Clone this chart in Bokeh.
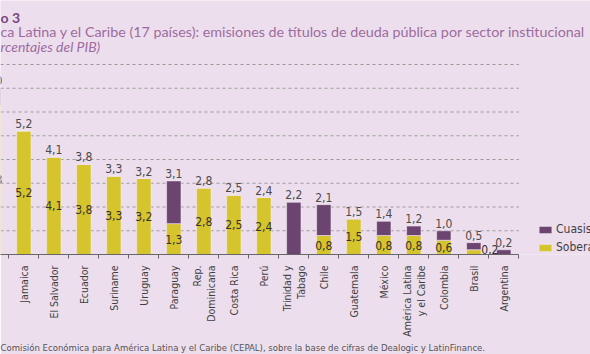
import math
from bokeh.plotting import figure
from bokeh.models import (Range1d, FixedTicker, Label, Legend, LegendItem,
                          ColumnDataSource, Title)
from bokeh.core.properties import value
from bokeh.embed import file_html
from bokeh.resources import INLINE

# ---------------- data ----------------
countries = ["Panamá", "Jamaica", "El Salvador", "Ecuador", "Suriname", "Uruguay",
             "Paraguay", "Rep.\nDominicana", "Costa Rica", "Perú", "Trinidad y\nTabago",
             "Chile", "Guatemala", "México", "América Latina\ny el Caribe", "Colombia",
             "Brasil", "Argentina"]
soberano = [6.3, 5.2, 4.1, 3.8, 3.3, 3.2, 1.3, 2.8, 2.5, 2.4, 0.0, 0.8, 1.5, 0.8,
            0.8, 0.6, 0.2, 0.0]
cuasisoberano = [0.7, 0.0, 0.0, 0.0, 0.0, 0.0, 1.8, 0.0, 0.0, 0.0, 2.2, 1.3, 0.0,
                 0.6, 0.4, 0.4, 0.3, 0.2]
totales = [7.0, 5.2, 4.1, 3.8, 3.3, 3.2, 3.1, 2.8, 2.5, 2.4, 2.2, 2.1, 1.5, 1.4,
           1.2, 1.0, 0.5, 0.2]
y_ticks = [1, 2, 3, 4, 5, 6, 7, 8]
series_names = ["Cuasisoberano", "Soberano"]

fig_title_num = "o 3"
fig_title = "ca Latina y el Caribe (17 países): emisiones de títulos de deuda pública por sector institucional"
fig_subtitle = "rcentajes del PIB)"
fig_source = ("Comisión Económica para América Latina y el Caribe (CEPAL), sobre la base "
              "de cifras de Dealogic y LatinFinance.")

# ---------------- style ----------------
BG = "#EDDEED"
PURPLE = "#6B4470"
YELLOW = "#D5C42B"
NARROW = "'Liberation Sans Narrow', 'DejaVu Sans Condensed', 'Roboto', sans-serif"
TITLE_FONT = "Lato"
TXT = "#3f3f3f"

W, H = 590, 354
FRAME_BOTTOM = 254          # canvas px of the zero line
PX_PER_UNIT = 23.75
PX_PER_CAT = 30.0
X_START = 0.2233
X_END = X_START + W / PX_PER_CAT
AXIS_END = len(countries) - 0.5
Y_END = FRAME_BOTTOM / PX_PER_UNIT


def fmt(v):
    return f"{v:.1f}".replace(".", ",")


idx = list(range(len(countries)))
src = ColumnDataSource(dict(x=idx, sob=soberano, cua=cuasisoberano))

p = figure(width=W, height=H, output_backend="svg", toolbar_location=None,
           x_range=Range1d(X_START, X_END), y_range=Range1d(0, Y_END))
p.min_border = 0
p.min_border_left = 0
p.min_border_right = 0
p.min_border_top = 0
p.min_border_bottom = H - FRAME_BOTTOM
p.background_fill_color = BG
p.border_fill_color = BG
p.outline_line_color = None
p.xgrid.visible = False
p.ygrid.visible = False
p.yaxis.visible = False

# dashed horizontal grid lines, limited to the category area
p.segment(x0=[X_START - 1] * len(y_ticks), x1=[AXIS_END] * len(y_ticks),
          y0=y_ticks, y1=y_ticks, line_color="#9a9a9a", line_dash="3 3",
          line_width=1, level="underlay")

rs = p.vbar_stack(["sob", "cua"], x="x", width=0.48, color=[YELLOW, PURPLE],
                  line_color="#f3e9f3", line_width=0.6, source=src)

# x axis
ax = p.xaxis[0]
ax.bounds = (X_START - 1, AXIS_END)
ax.ticker = FixedTicker(ticks=idx, minor_ticks=[i + 0.5 for i in range(-1, len(idx))])
ax.major_label_overrides = {i: c for i, c in zip(idx, countries)}
ax.major_label_orientation = math.pi / 2
ax.major_tick_in = 0
ax.major_tick_out = 0
ax.minor_tick_in = 0
ax.minor_tick_out = 4
ax.minor_tick_line_color = "#666666"
ax.axis_line_color = "#666666"
ax.major_label_standoff = 7
ax.major_label_text_font = NARROW
ax.major_label_text_font_size = "10.5px"
ax.major_label_text_color = TXT

# total labels
tot_src = ColumnDataSource(dict(x=idx, y=totales, t=[fmt(v) for v in totales]))
p.text("x", "y", text="t", source=tot_src, text_align="center", text_baseline="bottom",
       y_offset=-3, text_font=value(NARROW), text_font_size="12px", text_color="#4a4a4a")

# inner labels (soberano)
ix, iy, it = [], [], []
sx, st = [], []
for i, s in zip(idx, soberano):
    if s >= 0.5:
        ix.append(i); iy.append(s / 2); it.append(fmt(s))
    elif s > 0:
        sx.append(i + 0.25); st.append(fmt(s))
p.text(ix, iy, text=it, text_align="center", text_baseline="middle",
       text_font=value(NARROW), text_font_size="12px", text_color="#333333")
p.text(sx, [0] * len(sx), text=st, text_align="left", text_baseline="bottom",
       y_offset=-1, text_font=value(NARROW), text_font_size="12px", text_color="#333333")

# legend
legend = Legend(items=[LegendItem(label=series_names[0], renderers=[rs[1]]),
                       LegendItem(label=series_names[1], renderers=[rs[0]])],
                location=(537, 0), orientation="vertical",
                background_fill_alpha=0, border_line_color=None,
                padding=0, margin=0, glyph_width=16, glyph_height=9,
                label_standoff=3, spacing=4, label_height=9,
                label_text_font=NARROW, label_text_font_size="12px",
                label_text_color=TXT)
p.add_layout(legend)

# titles (inside the frame area, screen units)
p.add_layout(Label(x=0, y=FRAME_BOTTOM - 17, x_units="screen", y_units="screen",
                   text=fig_title_num, text_font=TITLE_FONT, text_font_style="bold",
                   text_font_size="14px", text_color="#7A4680", text_baseline="alphabetic"))
p.add_layout(Label(x=0, y=FRAME_BOTTOM - 31, x_units="screen", y_units="screen",
                   text=fig_title, text_font=TITLE_FONT, text_font_size="14.3px",
                   text_color="#9C6CA0", text_baseline="alphabetic"))
p.add_layout(Label(x=0, y=FRAME_BOTTOM - 46, x_units="screen", y_units="screen",
                   text=fig_subtitle, text_font=TITLE_FONT, text_font_style="italic",
                   text_font_size="14px", text_color="#9C6CA0", text_baseline="alphabetic"))

# source note under the axis
p.add_layout(Title(text=fig_source, align="left", offset=0, standoff=0,
                   text_font=NARROW, text_font_size="9.5px", text_font_style="normal",
                   text_color="#555555"), "below")

open("out.html", "w").write(file_html(p, INLINE))
